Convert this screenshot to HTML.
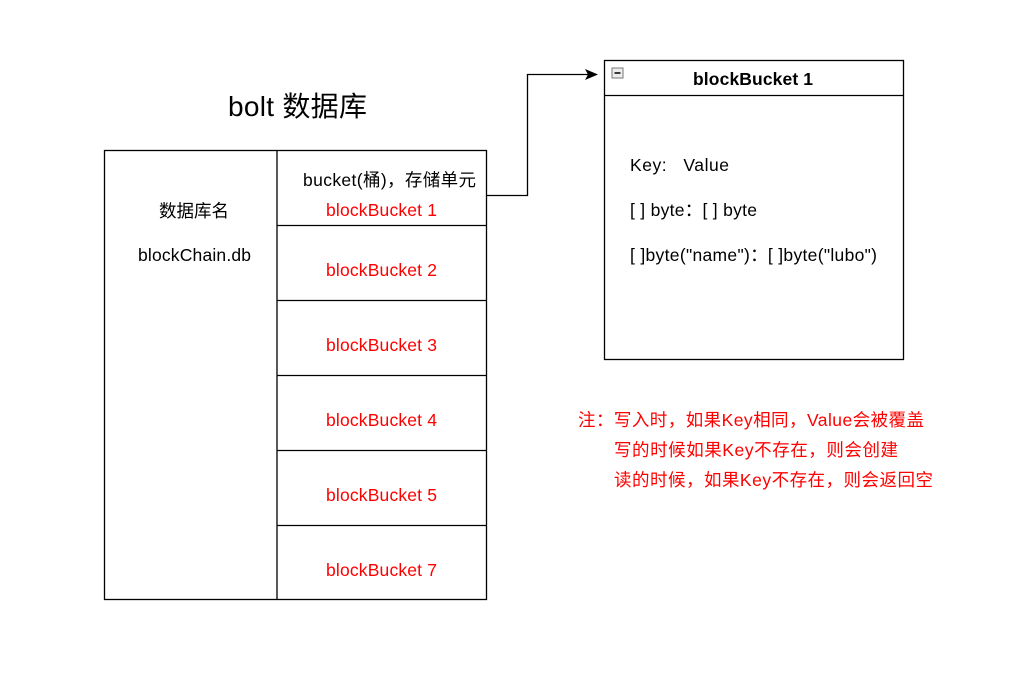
<!DOCTYPE html>
<html><head><meta charset="utf-8"><style>
html,body{margin:0;padding:0;background:#fff;width:1016px;height:689px;overflow:hidden}
svg text{font-family:"Liberation Sans","Noto Sans CJK SC",sans-serif;font-size:17.5px;white-space:pre}
</style></head><body>
<svg width="1016" height="689" xmlns="http://www.w3.org/2000/svg">
<g fill="none" stroke="#000" stroke-width="1.3">
<rect x="104.5" y="150.5" width="382" height="449"/>
<line x1="277" y1="150" x2="277" y2="600"/>
<line x1="277" y1="225.5" x2="487" y2="225.5"/>
<line x1="277" y1="300.5" x2="487" y2="300.5"/>
<line x1="277" y1="375.5" x2="487" y2="375.5"/>
<line x1="277" y1="450.5" x2="487" y2="450.5"/>
<line x1="277" y1="525.5" x2="487" y2="525.5"/>
<rect x="604.5" y="60.5" width="299" height="299"/>
<line x1="604" y1="95.5" x2="904" y2="95.5"/>
<polyline points="487,195.5 527.5,195.5 527.5,74.5 590,74.5"/>
</g>
<polygon points="598,74.5 585,69 588,74.5 585,80" fill="#000"/>
<rect x="612" y="68" width="11" height="10" fill="#eee" stroke="#777" stroke-width="1"/>
<line x1="614.5" y1="73" x2="620.5" y2="73" stroke="#000" stroke-width="1.5"/>
<text x="228" y="116" textLength="139" style="font-size:28px">bolt 数据库</text>
<text x="194" y="217" text-anchor="middle">数据库名</text>
<text x="138" y="261" textLength="113">blockChain.db</text>
<text x="303" y="186" textLength="173">bucket(桶)，存储单元</text>
<g fill="#ff0000">
<text x="326" y="216" textLength="111">blockBucket 1</text>
<text x="326" y="276" textLength="111">blockBucket 2</text>
<text x="326" y="351" textLength="111">blockBucket 3</text>
<text x="326" y="426" textLength="111">blockBucket 4</text>
<text x="326" y="501" textLength="111">blockBucket 5</text>
<text x="326" y="576" textLength="111">blockBucket 7</text>
</g>
<text x="693" y="85" textLength="120" style="font-weight:bold">blockBucket 1</text>
<text x="630" y="171" textLength="99">Key:   Value</text>
<text x="630" y="216" textLength="127">[ ] byte：[ ] byte</text>
<text x="630" y="261" textLength="247">[ ]byte("name")：[ ]byte("lubo")</text>
<g fill="#ff0000">
<text x="578" y="426" textLength="346">注：写入时，如果Key相同，Value会被覆盖</text>
<text x="614" y="456" textLength="284">写的时候如果Key不存在，则会创建</text>
<text x="614" y="486" textLength="319">读的时候，如果Key不存在，则会返回空</text>
</g>
</svg>
</body></html>
